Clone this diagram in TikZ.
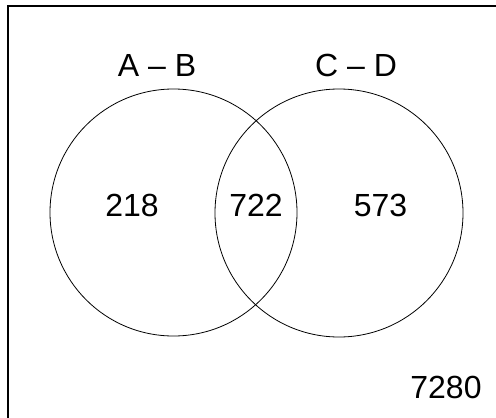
\documentclass[tikz,border=0pt]{standalone}
\usepackage{fontspec}
\setmainfont{Liberation Sans}
\usepackage{tikz}
\tikzset{
  every set/.style={draw,line width=0.8pt},
  every count/.style={inner sep=0pt,font=\fontsize{32}{37}\selectfont},
  frame line/.style={draw,line width=1.3pt},
}

\begin{document}
\begin{tikzpicture}[x=1pt,y=-1pt]
\useasboundingbox (0,0) rectangle (496,418);
\draw[frame line] (8,418) -- (8,6) -- (496,6);
\coordinate (ab) at (173.5,212.5);
\coordinate (cd) at (339,213);
\path[every set] (ab) circle[radius=123.5];
\path[every set] (cd) circle[radius=124];
\node[every count] (abname) at (157,65.5) {A -- B};
\node[every count] (cdname) at (356,65) {C -- D};
\foreach \nm/\x/\y/\val in {onlyab/132/205/218, both/256/205/722, onlycd/380.5/205.5/573, none/446/387/7280}
{
  \node[every count] (\nm) at (\x,\y) {\val};
}
\end{tikzpicture}
\end{document}
